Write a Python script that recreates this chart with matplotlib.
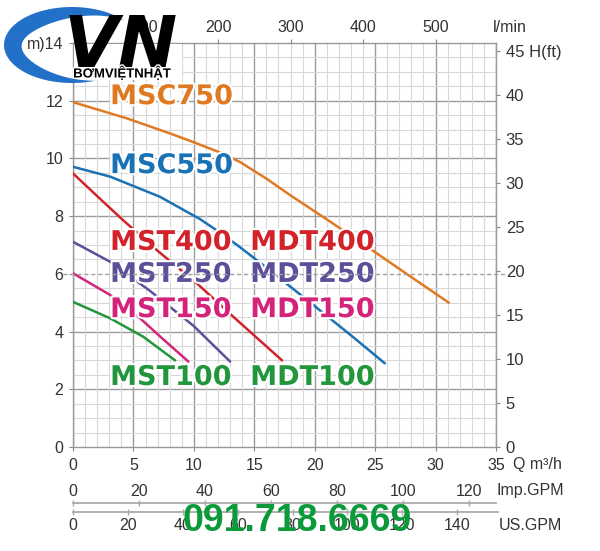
import numpy as np
import matplotlib
matplotlib.use('Agg')
import matplotlib.pyplot as plt
from matplotlib.ticker import MultipleLocator
import matplotlib.patheffects as pe
import matplotlib.transforms as mtrans
from matplotlib.patches import Polygon, Rectangle

plt.rcParams['font.family'] = ['Liberation Sans', 'DejaVu Sans']

# ---------------- data ----------------
msc750_q = [0, 4.45, 8.0, 10.0, 12.2, 13.8, 16.0, 18.0, 22.1, 25.0, 27.6, 31.1]
msc750_h = [11.95, 11.39, 10.87, 10.56, 10.2, 9.88, 9.3, 8.72, 7.58, 6.75, 6.0, 5.0]
msc550_q = [0, 3.07, 7.2, 10.5, 12.2, 13.8, 15.9, 18.3, 20.3, 23.0, 25.8]
msc550_h = [9.71, 9.37, 8.67, 7.9, 7.42, 6.93, 6.25, 5.45, 4.78, 3.87, 2.9]
mst400_q = [0, 2.24, 4.17, 7.0, 10.25, 13.3, 17.3]
mst400_h = [9.48, 8.6, 7.85, 6.8, 5.67, 4.5, 3.0]
mst250_q = [0, 3.07, 6.4, 9.97, 13.0]
mst250_h = [7.11, 6.42, 5.4, 4.2, 2.96]
mst150_q = [0, 3.07, 5.55, 7.5, 9.55]
mst150_h = [6.02, 5.27, 4.46, 3.72, 2.96]
mst100_q = [0, 3.07, 5.82, 8.45]
mst100_h = [5.03, 4.46, 3.82, 3.0]

series = [
    (msc750_q, msc750_h, '#E07A22'),
    (msc550_q, msc550_h, '#1A72B6'),
    (mst400_q, mst400_h, '#D2232A'),
    (mst250_q, mst250_h, '#5E4F9A'),
    (mst150_q, mst150_h, '#D4237A'),
    (mst100_q, mst100_h, '#22963C'),
]

# labels: (text, Q-left, H-baseline, color)
labels = [
    ('MSC750', 3.07, 11.88, '#E07A22'),
    ('MSC550', 3.07, 9.49, '#1A72B6'),
    ('MST400', 3.07, 6.83, '#D2232A'),
    ('MDT400', 14.66, 6.83, '#D2232A'),
    ('MST250', 3.07, 5.72, '#5E4F9A'),
    ('MDT250', 14.66, 5.72, '#5E4F9A'),
    ('MST150', 3.07, 4.50, '#D4237A'),
    ('MDT150', 14.66, 4.50, '#D4237A'),
    ('MST100', 3.07, 2.15, '#22963C'),
    ('MDT100', 14.66, 2.15, '#22963C'),
]

q_ticks = [0, 5, 10, 15, 20, 25, 30, 35]
h_ticks = [0, 2, 4, 6, 8, 10, 12, 14]
h_labels = ['0', '2', '4', '6', '8', '10', '12', 'm)14']
ft_ticks = [0, 5, 10, 15, 20, 25, 30, 35, 40, 45]
ft_labels = ['0', '5', '10', '15', '20', '25', '30', '35', '40', '45 H(ft)']
lmin_ticks = [100, 200, 300, 400, 500]
imp_ticks = [0, 20, 40, 60, 80, 100, 120]
us_ticks = [0, 20, 40, 60, 80, 100, 120, 140]

M3H_TO_LMIN = 1000 / 60
M3H_TO_IMP = 3.666
M3H_TO_US = 4.403
M_TO_FT = 1 / 0.3048

TXT = '#333333'

fig = plt.figure(figsize=(6, 5.51), dpi=100)
ax = fig.add_axes([73 / 600, 1 - 447 / 551, 423 / 600, 404 / 551])
ax.set_xlim(0, 35)
ax.set_ylim(0, 14)
ax.xaxis.set_major_locator(MultipleLocator(5))
ax.xaxis.set_minor_locator(MultipleLocator(1))
ax.yaxis.set_minor_locator(MultipleLocator(0.5))
ax.set_yticks(h_ticks, labels=h_labels)
ax.set_xticks(q_ticks)
ax.grid(which='minor', color='#d8d8d8', lw=0.8)
ax.grid(which='major', axis='x', color='#9c9c9c', lw=1.0)
for h in h_ticks[1:-1]:
    if h != 6:
        ax.axhline(h, color='#9c9c9c', lw=1.0, zorder=0.5)
ax.set_axisbelow(True)
ax.tick_params(which='minor', length=0)
ax.tick_params(which='major', length=3, color='#888888', labelsize=11.5,
               labelcolor=TXT)
ax.tick_params(axis='x', pad=5)
ax.tick_params(axis='y', pad=4)
for s in ax.spines.values():
    s.set_color('#999999')
    s.set_linewidth(1.0)

# dashed 6 m line
ax.plot([-0.8, 35.8], [6, 6], color='#a0a0a0', lw=1.0, ls=(0, (3, 2)),
        clip_on=False, zorder=6)

for q, h, c in series:
    ax.plot(q, h, color=c, lw=1.8, zorder=3, solid_capstyle='round',
            solid_joinstyle='round')

for t, x, y, c in labels:
    ax.text(x, y, t, color=c, fontsize=19.5, fontweight='bold',
            family='DejaVu Sans', ha='left', va='baseline', zorder=5,
            path_effects=[pe.withStroke(linewidth=3, foreground='white')])

# right ft axis
ax2 = ax.twinx()
ax2.set_ylim(0, 14 * M_TO_FT)
ax2.set_yticks(ft_ticks, labels=ft_labels)
ax2.tick_params(length=3, color='#888888', labelsize=12, labelcolor=TXT, pad=4)
for s in ax2.spines.values():
    s.set_visible(False)

# top l/min axis
ax3 = ax.twiny()
ax3.set_xlim(0, 35 * M3H_TO_LMIN)
ax3.set_xticks(lmin_ticks)
ax3.tick_params(length=3, color='#888888', labelsize=11.5, labelcolor=TXT, pad=3)
for s in ax3.spines.values():
    s.set_visible(False)
ax.text((493 - 73) / 423, (447 - 28) / 404, 'l/min', transform=ax.transAxes,
        ha='left', va='center', fontsize=11.5, color=TXT)

# bottom unit and extra scales
ax.text((513 - 73) / 423, (447 - 465) / 404, 'Q m³/h', transform=ax.transAxes,
        ha='left', va='center', fontsize=11.5, color=TXT)

trans = mtrans.blended_transform_factory(ax.transData, ax.transAxes)
y_imp_lab = (447 - 491) / 404
y_imp_line = (447 - 503) / 404
y_us_line = (447 - 512) / 404
y_us_lab = (447 - 525) / 404

ax.plot([0, 35], [y_imp_line] * 2, color='#aaaaaa', lw=1.3, transform=trans,
        clip_on=False)
ax.plot([0, 35.2], [y_us_line] * 2, color='#aaaaaa', lw=1.3, transform=trans,
        clip_on=False)
imp_q = [g / M3H_TO_IMP for g in imp_ticks]
us_q = [g / M3H_TO_US for g in us_ticks]
ax.plot(imp_q, [y_imp_line] * len(imp_q), ls='none', marker='|', ms=4,
        color='#aaaaaa', transform=trans, clip_on=False)
ax.plot(us_q, [y_us_line] * len(us_q), ls='none', marker='|', ms=4,
        color='#aaaaaa', transform=trans, clip_on=False)
for g, q in zip(imp_ticks, imp_q):
    ax.text(q, y_imp_lab, str(g), transform=trans, ha='center', va='center',
            fontsize=11.5, color=TXT)
for g, q in zip(us_ticks, us_q):
    ax.text(q, y_us_lab, str(g), transform=trans, ha='center', va='center',
            fontsize=11.5, color=TXT)
ax.text(1.0, y_imp_lab, 'Imp.GPM', transform=ax.transAxes, ha='left',
        va='center', fontsize=11.5, color=TXT)
ax.text((499 - 73) / 423, y_us_lab, 'US.GPM', transform=ax.transAxes,
        ha='left', va='center', fontsize=11.5, color=TXT)

# ---------------- overlay: logo and phone ----------------
ov = fig.add_axes([0, 0, 1, 1], zorder=10)
ov.set_xlim(0, 600)
ov.set_ylim(551, 0)
ov.axis('off')
ov.patch.set_alpha(0)

ov.add_patch(Rectangle((74, 44), 108, 36, facecolor='white', edgecolor='none'))

cx, cy, a, b = 72, 45, 68, 38
th = np.radians(np.linspace(40, 290, 120))
t = 18 * np.sin(np.pi * (np.degrees(th) - 40) / 250)
outer = np.column_stack([cx + a * np.cos(th), cy - b * np.sin(th)])
inner = np.column_stack([cx + (a - t) * np.cos(th), cy - (b - t) * np.sin(th)])
ov.add_patch(Polygon(np.vstack([outer, inner[::-1]]), closed=True,
                     facecolor='#2270C8', edgecolor='none'))

ov.text(64, 67, 'VN', fontsize=51, fontweight='bold', style='italic',
        family='DejaVu Sans', color='black', ha='left', va='baseline')
ov.text(122, 77.5, 'BƠMVIỆTNHẬT', fontsize=9.5, fontweight='bold',
        family='Liberation Sans', color='black',
        ha='center', va='baseline',
        path_effects=[pe.withStroke(linewidth=2, foreground='white')])

ov.text(297, 531, '091.718.6669', fontsize=27, fontweight='bold',
        family='Liberation Sans', color='#0A9A3A',
        ha='center', va='baseline')

fig.savefig('out.png', dpi=100, facecolor='white')
